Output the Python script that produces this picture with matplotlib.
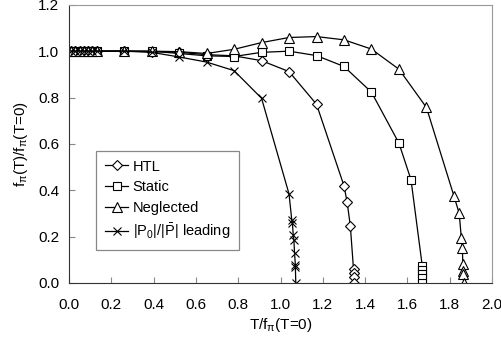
import matplotlib.pyplot as plt

plt.rcParams['font.family'] = ['Liberation Sans', 'DejaVu Sans']
plt.rcParams['mathtext.fontset'] = 'custom'
plt.rcParams['mathtext.rm'] = 'Liberation Sans'
plt.rcParams['mathtext.it'] = 'Liberation Sans'

# low-T points shared by all curves
x_low = [0.01, 0.03, 0.05, 0.07, 0.09, 0.11, 0.13, 0.26, 0.39, 0.52, 0.65, 0.78, 0.91, 1.04, 1.17]

# HTL
htl_x = x_low + [1.30, 1.315, 1.33, 1.345, 1.345, 1.345, 1.345]
htl_y = [1.0] * 7 + [1.0, 0.998, 0.995, 0.985, 0.98, 0.959, 0.912, 0.771,
                     0.419, 0.348, 0.246, 0.06, 0.042, 0.025, 0.0]

# Static
static_x = x_low + [1.30, 1.43, 1.56, 1.617, 1.67, 1.67, 1.67, 1.67, 1.67]
static_y = [1.0] * 7 + [1.0, 1.0, 0.99, 0.98, 0.977, 0.995, 1.0, 0.981,
                        0.934, 0.823, 0.603, 0.445, 0.075, 0.057, 0.04, 0.02, 0.0]

# Neglected
negl_x = x_low + [1.30, 1.43, 1.56, 1.69, 1.82, 1.845, 1.855, 1.86, 1.862, 1.865, 1.865, 1.866]
negl_y = [1.0] * 7 + [1.0, 1.0, 0.998, 0.99, 1.008, 1.037, 1.059, 1.063,
                      1.049, 1.009, 0.922, 0.757, 0.375, 0.30, 0.193, 0.15, 0.082, 0.05, 0.039, 0.0]

# |P0|/|P| leading
p0_x = x_low[:-2] + [1.04, 1.053, 1.056, 1.06, 1.063, 1.066, 1.07, 1.07, 1.072]
p0_y = [1.0] * 7 + [1.0, 0.995, 0.975, 0.953, 0.916, 0.797,
                    0.384, 0.272, 0.258, 0.207, 0.186, 0.131, 0.078, 0.07, 0.0]

fig = plt.figure(figsize=(5.01, 3.45), dpi=100)
ax = fig.add_axes([0.138, 0.180, 0.844, 0.806])

style = dict(color='black', lw=0.9, mfc='white', mec='black', mew=0.8)
ax.plot(htl_x, htl_y, marker='D', ms=5, label='HTL', **style)
ax.plot(static_x, static_y, marker='s', ms=6, label='Static', **style)
ax.plot(negl_x, negl_y, marker='^', ms=6.5, label='Neglected', **style)
ax.plot(p0_x, p0_y, marker='x', ms=6, label=r'$|\mathrm{P}_0|/|\bar{\mathrm{P}}|$ leading', **style)

ax.set_xlim(0, 2.0)
ax.set_ylim(0, 1.2)
ax.set_xticks([0.0, 0.2, 0.4, 0.6, 0.8, 1.0, 1.2, 1.4, 1.6, 1.8, 2.0])
ax.set_yticks([0.0, 0.2, 0.4, 0.6, 0.8, 1.0, 1.2])
ax.xaxis.set_major_formatter(plt.FormatStrFormatter('%.1f'))
ax.yaxis.set_major_formatter(plt.FormatStrFormatter('%.1f'))
ax.tick_params(direction='in', length=4, color='#888888', labelsize=11, pad=7)
ax.tick_params(axis='x', pad=11)

for s in ['top', 'right']:
    ax.spines[s].set_color('#999999')
for s in ['left', 'bottom']:
    ax.spines[s].set_color('#333333')

ax.set_xlabel(r'T/f$_\pi$(T=0)', fontsize=11, labelpad=3)
ax.set_ylabel(r'f$_\pi$(T)/f$_\pi$(T=0)', fontsize=11, labelpad=6)

leg = ax.legend(loc='lower left', bbox_to_anchor=(0.064, 0.119), fontsize=10.5,
                fancybox=False, edgecolor='#888888', framealpha=1,
                handlelength=1.6, handletextpad=0.3, labelspacing=0.45,
                borderpad=0.6, borderaxespad=0)
leg.get_frame().set_linewidth(0.9)

fig.savefig('out.png', dpi=100)
